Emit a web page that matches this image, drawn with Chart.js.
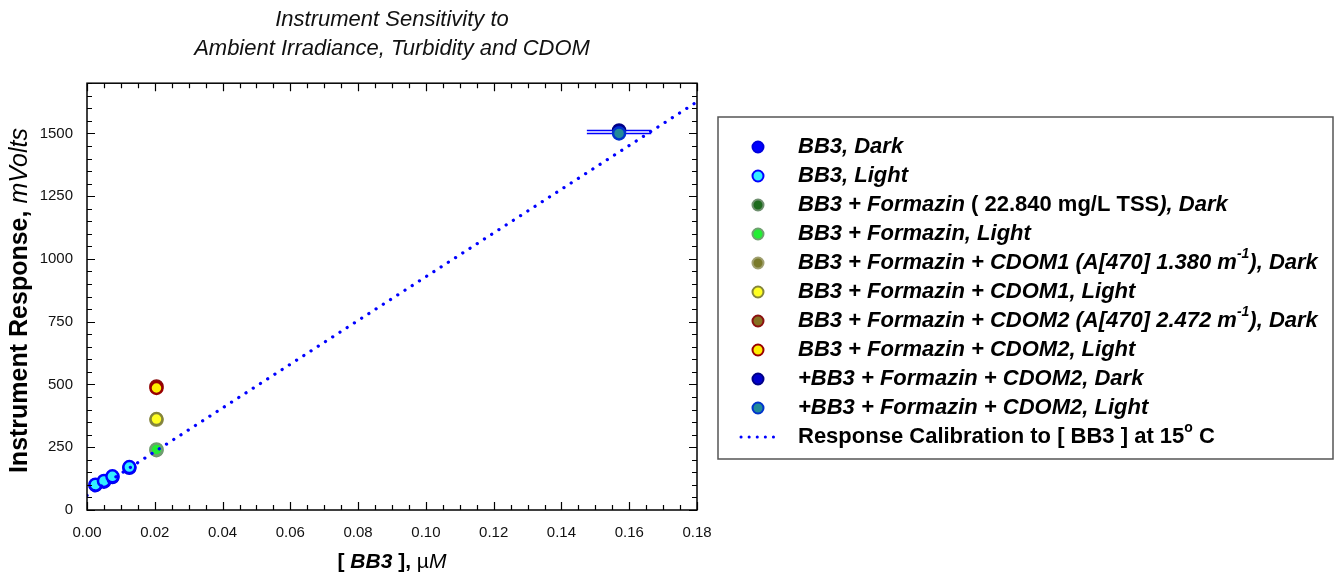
<!DOCTYPE html>
<html>
<head>
<meta charset="utf-8">
<script src="https://cdn.jsdelivr.net/npm/chart.js@4.4.1/dist/chart.umd.min.js"></script>
<style>
  html, body { margin: 0; padding: 0; background: #fff; }
</style>
</head>
<body>
<canvas id="sensitivity-chart" width="1335" height="579"></canvas>
<script>
// Values
const bb3X = [0.0025, 0.005, 0.0075, 0.0125];
const bb3DarkY = [99, 113, 131, 168];
const bb3LightY = [101, 116, 134, 171];

const mixX = [0.0205];
const formazinDarkY = [238];
const formazinLightY = [241];
const cdom1DarkY = [359];
const cdom1LightY = [362];
const cdom2DarkY = [492];
const cdom2LightY = [486];

const plusX = [0.157];
const plusDarkY = [1512];
const plusLightY = [1500];
const plusErrLow = [0.1475];
const plusErrHigh = [0.1665];

const calX = [0, 0.18];
const calY = [58, 1626];

// '|' switches italic on/off, ^{..} is superscript
const seriesNames = [
    'BB3, Dark',
    'BB3, Light',
    'BB3 + Formazin |( 22.840 mg/L TSS|), Dark',
    'BB3 + Formazin, Light',
    'BB3 + Formazin + CDOM1 (A[470] 1.380 m^{-1}), Dark',
    'BB3 + Formazin + CDOM1, Light',
    'BB3 + Formazin + CDOM2 (A[470] 2.472 m^{-1}), Dark',
    'BB3 + Formazin + CDOM2, Light',
    '+BB3 + Formazin + CDOM2, Dark',
    '+BB3 + Formazin + CDOM2, Light',
    '|Response Calibration to [ BB3 ] at 15^{o} C'
];

const xTicks = [0, 0.02, 0.04, 0.06, 0.08, 0.10, 0.12, 0.14, 0.16, 0.18];
const yTicks = [0, 250, 500, 750, 1000, 1250, 1500];

const FONT = '"Liberation Sans", Arial, sans-serif';

function pts(xs, ys) {
    return ys.map((y, i) => ({ x: xs[i], y: y }));
}

// light series are drawn over the dark ones (lower order = on top)
function dot(label, data, fill, edge, order) {
    return {
        label: label,
        data: data,
        backgroundColor: fill,
        borderColor: edge,
        pointRadius: 6,
        pointBorderWidth: 2.5,
        showLine: false,
        order: order
    };
}

const datasets = [
    dot(seriesNames[0], pts(bb3X, bb3DarkY), '#0000ff', '#0000dd', 3),
    dot(seriesNames[1], pts(bb3X, bb3LightY), '#33eeff', '#0000ff', 2),
    dot(seriesNames[2], pts(mixX, formazinDarkY), '#1e6b1e', '#6f8f6f', 3),
    dot(seriesNames[3], pts(mixX, formazinLightY), '#22ee33', '#6fa06f', 2),
    dot(seriesNames[4], pts(mixX, cdom1DarkY), '#7a7a2a', '#a0a070', 3),
    dot(seriesNames[5], pts(mixX, cdom1LightY), '#ffff22', '#85853a', 2),
    dot(seriesNames[6], pts(mixX, cdom2DarkY), '#857020', '#8b1010', 3),
    dot(seriesNames[7], pts(mixX, cdom2LightY), '#ffee00', '#990000', 2),
    dot(seriesNames[8], pts(plusX, plusDarkY), '#0000cc', '#000088', 3),
    dot(seriesNames[9], pts(plusX, plusLightY), '#208a99', '#0033cc', 2),
    {
        label: seriesNames[10],
        data: pts(calX, calY),
        type: 'line',
        borderColor: '#0000ff',
        borderWidth: 3.2,
        borderDash: [0.1, 8.5],
        borderCapStyle: 'round',
        pointRadius: 0,
        fill: false,
        showLine: true,
        order: 1
    }
];

// error bars of the two "+BB3" series
const errorBars = [
    { ds: 8, lo: plusErrLow, hi: plusErrHigh },
    { ds: 9, lo: plusErrLow, hi: plusErrHigh }
];

function parseLabel(str) {
    const segs = [];
    let italic = true, buf = '';
    for (let i = 0; i < str.length; i++) {
        const ch = str[i];
        if (ch === '|') {
            if (buf) segs.push({ text: buf, italic: italic, sup: false });
            buf = '';
            italic = !italic;
        } else if (ch === '^' && str[i + 1] === '{') {
            if (buf) segs.push({ text: buf, italic: italic, sup: false });
            buf = '';
            const end = str.indexOf('}', i);
            segs.push({ text: str.slice(i + 2, end), italic: italic, sup: true });
            i = end;
        } else {
            buf += ch;
        }
    }
    if (buf) segs.push({ text: buf, italic: italic, sup: false });
    return segs;
}

function segFont(s, size) {
    const sz = s.sup ? Math.round(size * 0.62) : size;
    return (s.italic ? 'italic ' : '') + (s.bold === false ? '' : 'bold ') + sz + 'px ' + FONT;
}

function drawSegs(ctx, segs, x, y, size) {
    ctx.textBaseline = 'middle';
    ctx.textAlign = 'left';
    for (const s of segs) {
        ctx.font = segFont(s, size);
        ctx.fillText(s.text, x, s.sup ? y - size * 0.42 : y);
        x += ctx.measureText(s.text).width;
    }
}

function segsWidth(ctx, segs, size) {
    let w = 0;
    for (const s of segs) {
        ctx.font = segFont(s, size);
        w += ctx.measureText(s.text).width;
    }
    return w;
}

const decorPlugin = {
    id: 'decor',
    beforeDatasetsDraw(chart) {
        const ctx = chart.ctx;
        const xs = chart.scales.x, ys = chart.scales.y;
        ctx.save();
        ctx.strokeStyle = '#0000ff';
        ctx.lineWidth = 1.5;
        errorBars.forEach(eb => {
            chart.data.datasets[eb.ds].data.forEach((p, i) => {
                const py = ys.getPixelForValue(p.y);
                ctx.beginPath();
                ctx.moveTo(xs.getPixelForValue(eb.lo[i]), py);
                ctx.lineTo(xs.getPixelForValue(eb.hi[i]), py);
                ctx.stroke();
            });
        });
        ctx.restore();
    },
    afterDraw(chart) {
        const ctx = chart.ctx;
        const a = chart.chartArea;
        const xs = chart.scales.x, ys = chart.scales.y;
        ctx.save();

        // frame
        ctx.strokeStyle = '#000';
        ctx.lineWidth = 1.5;
        ctx.strokeRect(a.left, a.top, a.right - a.left, a.bottom - a.top);

        // inward ticks on all sides, major + minor
        ctx.lineWidth = 1.2;
        ctx.beginPath();
        for (let i = 0; i <= 36; i++) {
            const px = Math.round(xs.getPixelForValue(i * 0.005)) + 0.5;
            const len = i % 4 === 0 ? 8 : 5;
            ctx.moveTo(px, a.bottom); ctx.lineTo(px, a.bottom - len);
            ctx.moveTo(px, a.top); ctx.lineTo(px, a.top + len);
        }
        for (let v = 0; v <= 1700; v += 50) {
            const py = Math.round(ys.getPixelForValue(v)) + 0.5;
            const len = v % 250 === 0 ? 8 : 5;
            ctx.moveTo(a.left, py); ctx.lineTo(a.left + len, py);
            ctx.moveTo(a.right, py); ctx.lineTo(a.right - len, py);
        }
        ctx.stroke();

        // axis titles
        ctx.fillStyle = '#000';
        const ySegs = [
            { text: 'Instrument Response, ', italic: false },
            { text: 'mVolts', italic: true, bold: false }
        ];
        const yw = segsWidth(ctx, ySegs, 25);
        ctx.save();
        ctx.translate(20, (a.top + a.bottom) / 2 + 4);
        ctx.rotate(-Math.PI / 2);
        drawSegs(ctx, ySegs, -yw / 2, 0, 25);
        ctx.restore();

        const xSegs = [
            { text: '[ ', italic: false },
            { text: 'BB3', italic: true },
            { text: ' ], ', italic: false },
            { text: '\u00b5', italic: false, bold: false },
            { text: 'M', italic: true, bold: false }
        ];
        const xw = segsWidth(ctx, xSegs, 21);
        drawSegs(ctx, xSegs, (a.left + a.right) / 2 - xw / 2, 562, 21);

        // legend box
        const box = { left: 718, top: 117, right: 1333, bottom: 459 };
        ctx.strokeStyle = '#555';
        ctx.lineWidth = 1.5;
        ctx.strokeRect(box.left, box.top, box.right - box.left, box.bottom - box.top);
        const rowY0 = 147, rowH = 29;
        chart.data.datasets.forEach((ds, i) => {
            const y = rowY0 + i * rowH;
            if (ds.type === 'line') {
                ctx.save();
                ctx.strokeStyle = ds.borderColor;
                ctx.lineWidth = 3;
                ctx.lineCap = 'round';
                ctx.setLineDash([0.1, 8]);
                ctx.beginPath();
                ctx.moveTo(741, y); ctx.lineTo(781, y);
                ctx.stroke();
                ctx.restore();
            } else {
                ctx.beginPath();
                ctx.arc(758, y, 5.5, 0, Math.PI * 2);
                ctx.fillStyle = ds.backgroundColor;
                ctx.fill();
                ctx.lineWidth = 2;
                ctx.strokeStyle = ds.borderColor;
                ctx.stroke();
            }
            ctx.fillStyle = '#000';
            drawSegs(ctx, parseLabel(ds.label), 798, y, 22);
        });
        ctx.restore();
    }
};

new Chart(document.getElementById('sensitivity-chart'), {
    type: 'scatter',
    data: { datasets: datasets },
    options: {
        responsive: false,
        animation: false,
        devicePixelRatio: 1,
        layout: { padding: { left: 0, right: 638, top: 0, bottom: 0 } },
        scales: {
            x: {
                type: 'linear',
                min: 0,
                max: 0.18,
                grid: { display: false },
                border: { display: false },
                afterFit: scale => { scale.height = 69; },
                afterBuildTicks: scale => {
                    scale.ticks = xTicks.map(v => ({ value: v }));
                },
                ticks: {
                    padding: 6,
                    color: '#111',
                    font: { family: FONT, size: 15 },
                    callback: v => v.toFixed(2)
                }
            },
            y: {
                type: 'linear',
                min: 0,
                max: 1700,
                grid: { display: false },
                border: { display: false },
                afterFit: scale => { scale.width = 87; },
                afterBuildTicks: scale => {
                    scale.ticks = yTicks.map(v => ({ value: v }));
                },
                ticks: {
                    padding: 6,
                    color: '#111',
                    font: { family: FONT, size: 15 },
                    callback: v => String(v)
                }
            }
        },
        plugins: {
            legend: { display: false },
            tooltip: { enabled: false },
            title: {
                display: true,
                fullSize: false,
                text: ['Instrument Sensitivity to', 'Ambient Irradiance, Turbidity and CDOM'],
                color: '#111',
                font: { family: FONT, size: 22, style: 'italic', weight: 'normal', lineHeight: 1.3 },
                padding: { top: 6, bottom: 20 }
            }
        }
    },
    plugins: [decorPlugin]
});
</script>
</body>
</html>
